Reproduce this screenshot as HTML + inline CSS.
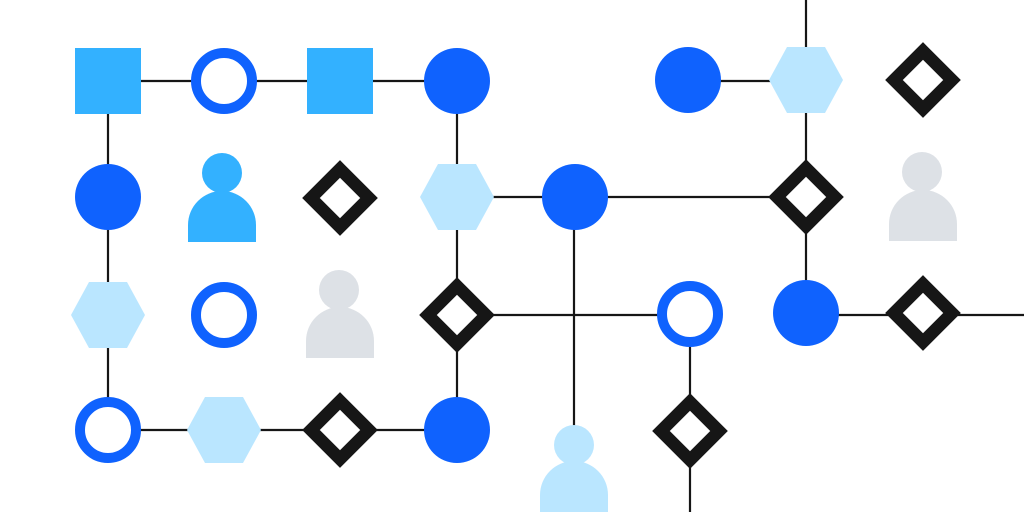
<!DOCTYPE html>
<html><head><meta charset="utf-8"><style>html,body{margin:0;padding:0;background:#fff}</style></head>
<body>
<svg width="1024" height="512" viewBox="0 0 1024 512" xmlns="http://www.w3.org/2000/svg">
<defs>
<g id="hex"><polygon points="-37,0 -19,-33 19,-33 37,0 19,33 -19,33" fill="#bae6ff"/></g>
<g id="dia"><polygon points="0,-29 29,0 0,29 -29,0" fill="#fff" stroke="#161616" stroke-width="12.5"/></g>
<g id="ring"><circle r="28" fill="#fff" stroke="#0f62fe" stroke-width="10"/></g>
<g id="circ"><circle r="33" fill="#0f62fe"/></g>
<g id="sq"><rect x="-33" y="-33" width="66" height="66" fill="#33b1ff"/></g>
</defs>
<g stroke="#161616" stroke-width="2.2" fill="none">
<line x1="108" y1="81" x2="457" y2="81"/>
<line x1="108" y1="81" x2="108" y2="430"/>
<line x1="108" y1="430" x2="457" y2="430"/>
<line x1="457" y1="81" x2="457" y2="430"/>
<line x1="457" y1="197" x2="806" y2="197"/>
<line x1="574" y1="197" x2="574" y2="440"/>
<line x1="457" y1="315" x2="690" y2="315"/>
<line x1="690" y1="315" x2="690" y2="512"/>
<line x1="806" y1="0" x2="806" y2="315"/>
<line x1="690" y1="81" x2="806" y2="81"/>
<line x1="806" y1="315" x2="1024" y2="315"/>
</g>
<use href="#sq" x="108" y="81"/><use href="#ring" x="224" y="81"/><use href="#sq" x="340" y="81"/><use href="#circ" x="457" y="81"/>
<use href="#circ" x="688" y="80"/><use href="#hex" x="806" y="80"/><use href="#dia" x="923" y="80"/>
<use href="#circ" x="108" y="197"/>
<g fill="#33b1ff"><circle cx="222" cy="173" r="20"/><path d="M188,242 V225 A34,34 0 0 1 256,225 V242 Z"/></g>
<use href="#dia" x="340" y="198"/><use href="#hex" x="457" y="197"/><use href="#circ" x="575" y="197"/><use href="#dia" x="806" y="197"/>
<g fill="#dde1e6"><circle cx="922" cy="172" r="20"/><path d="M889,241 V224 A34,34 0 0 1 957,224 V241 Z"/></g>
<use href="#hex" x="108" y="315"/><use href="#ring" x="224" y="315"/>
<g fill="#dde1e6"><circle cx="339" cy="290" r="20"/><path d="M306,358 V341 A34,34 0 0 1 374,341 V358 Z"/></g>
<use href="#dia" x="457" y="315"/><use href="#ring" x="690" y="314"/><use href="#circ" x="806" y="313"/><use href="#dia" x="923" y="313"/>
<use href="#ring" x="108" y="430"/><use href="#hex" x="224" y="430"/><use href="#dia" x="340" y="430"/><use href="#circ" x="457" y="430"/>
<g fill="#bae6ff"><circle cx="574" cy="445" r="20"/><path d="M540,512 V495 A34,34 0 0 1 608,495 V512 Z"/></g>
<use href="#dia" x="690" y="431"/>
</svg>
</body></html>
